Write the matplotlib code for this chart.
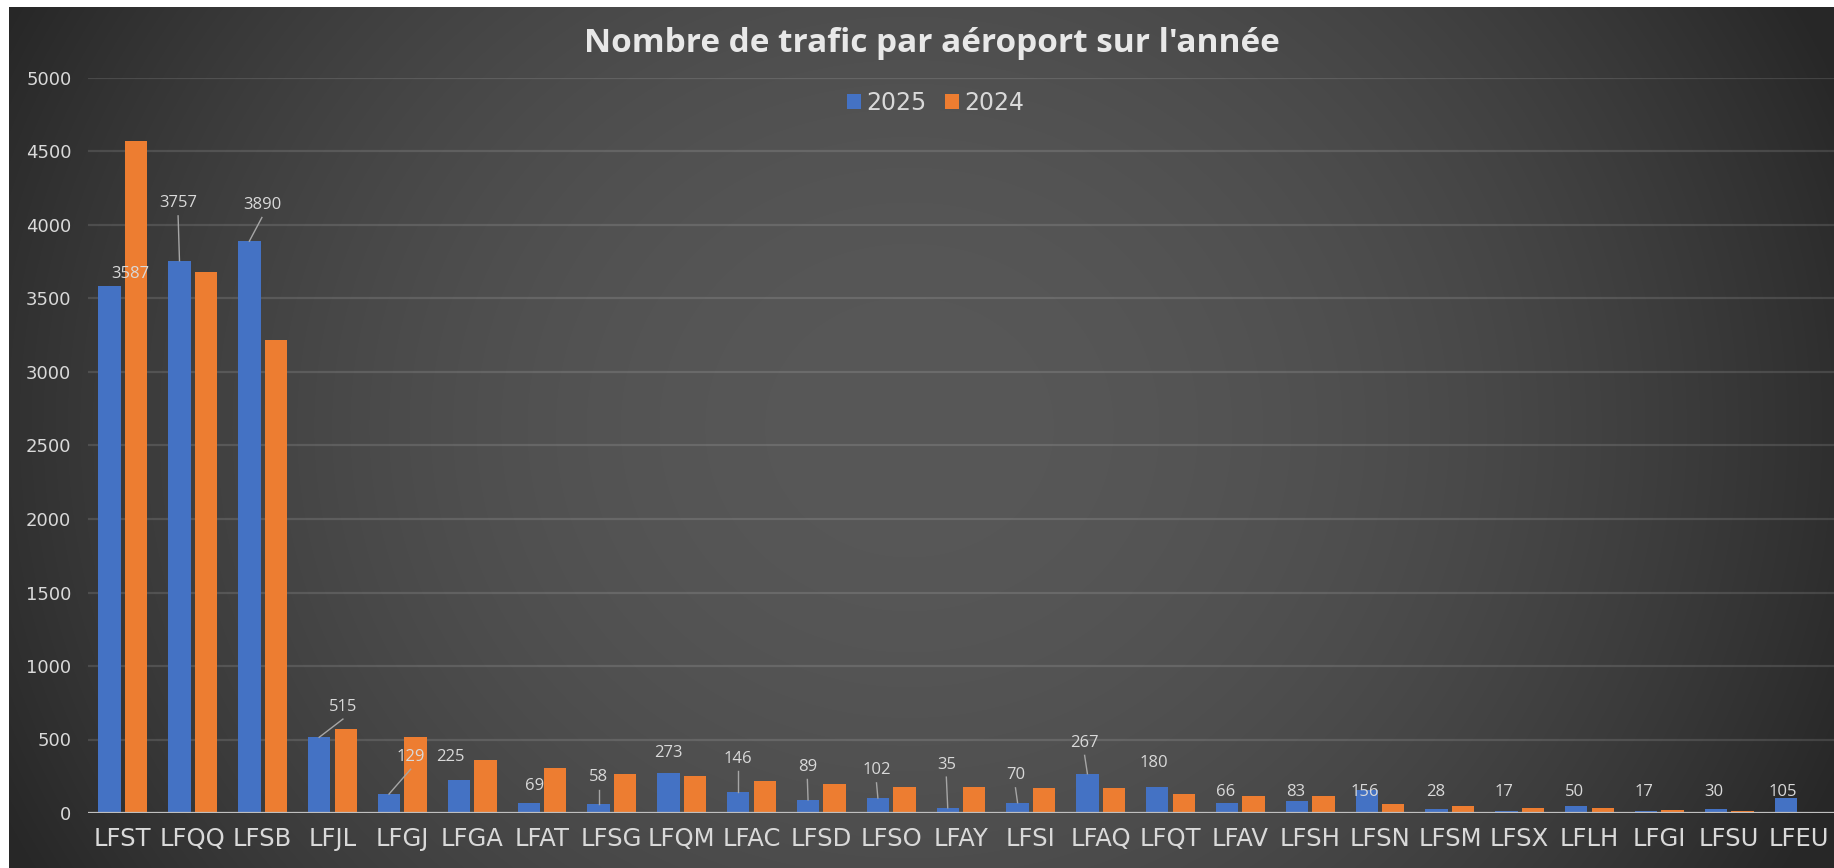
import matplotlib
matplotlib.use("Agg")
import matplotlib.pyplot as plt
import numpy as np

# donnees
airports = ["LFST", "LFQQ", "LFSB", "LFJL", "LFGJ", "LFGA", "LFAT", "LFSG", "LFQM",
            "LFAC", "LFSD", "LFSO", "LFAY", "LFSI", "LFAQ", "LFQT", "LFAV", "LFSH",
            "LFSN", "LFSM", "LFSX", "LFLH", "LFGI", "LFSU", "LFEU"]
traffic_2025 = [3587, 3757, 3890, 515, 129, 225, 69, 58, 273, 146, 89, 102, 35, 70,
                267, 180, 66, 83, 156, 28, 17, 50, 17, 30, 105]
traffic_2024 = [4570, 3680, 3220, 570, 518, 358, 305, 262, 249, 221, 196, 180, 180, 169,
                169, 128, 114, 114, 59, 46, 34, 32, 21, 12, 0]
years = ["2025", "2024"]
y_ticks = [0, 500, 1000, 1500, 2000, 2500, 3000, 3500, 4000, 4500, 5000]

# placement des etiquettes (decalage x par categorie, y en valeur) et lignes de rappel
label_pos = [(0.10, 3665), (-0.21, 4147), (-0.01, 4136), (0.15, 724), (0.12, 383),
             (-0.31, 381), (-0.10, 187), (-0.19, 244), (-0.19, 409), (-0.19, 370),
             (-0.20, 313), (-0.21, 290), (-0.21, 329), (-0.22, 256), (-0.23, 477),
             (-0.24, 342), (-0.21, 142), (-0.21, 142), (-0.22, 142), (-0.21, 142),
             (-0.22, 142), (-0.22, 142), (-0.22, 142), (-0.22, 142), (-0.23, 142)]
leader = [False, True, True, True, True, False, False, True, False, True, True, True,
          True, True, True, False, False, False, False, False, False, False, False,
          False, False]

blue = "#4472C4"
orange = "#ED7D31"
txt = "#d9d9d9"

fig = plt.figure(figsize=(18.34, 8.68), dpi=100)
fig.patch.set_facecolor("white")

# fond degrade
bg = fig.add_axes([9 / 1834, 0, 1 - 9 / 1834, 1 - 7 / 868])
yy, xx = np.mgrid[0:861, 0:1825]
r = ((xx - 900) / 1000.0) ** 2 + ((yy - 420) / 900.0) ** 2
shade = np.clip(88 - 48 * np.clip(r, 0, 1), 0, 255) / 255.0
bg.imshow(np.dstack([shade, shade, shade]), aspect="auto", extent=[0, 1, 0, 1])
bg.set_axis_off()

ax = fig.add_axes([88 / 1834, 1 - 813 / 868, 1 - 88 / 1834, (813 - 78) / 868])
ax.set_facecolor("none")
x = np.arange(len(airports))
w = 0.32
off = 0.19
ax.bar(x - off, traffic_2025, w, color=blue, label=years[0], zorder=3)
ax.bar(x + off, traffic_2024, w, color=orange, label=years[1], zorder=3)

ax.set_xlim(-0.5, len(airports) - 0.5)
ax.set_ylim(0, 5000)
ax.set_yticks(y_ticks)
ax.yaxis.grid(True, color="white", alpha=0.12, lw=1.6, zorder=0)
ax.axhline(0, color="#bfbfbf", lw=1.6, zorder=4)
for s in ax.spines.values():
    s.set_visible(False)
ax.tick_params(length=0)
ax.tick_params(axis="y", colors=txt, labelsize=13, pad=12)
ax.set_xticks(x)
ax.set_xticklabels(airports, family="Liberation Sans Narrow", fontsize=17.5, color=txt)
ax.tick_params(axis="x", pad=10)

for i, v in enumerate(traffic_2025):
    dx, ty = label_pos[i]
    ax.text(i + dx, ty, str(v), ha="center", va="center", color=txt, fontsize=12,
            family="Open Sans", zorder=6)
    if leader[i]:
        ax.plot([i + dx, i - off], [ty - 85, v], color="#a6a6a6", lw=1, zorder=5)

fig.text(0.508, 0.950, "Nombre de trafic par aéroport sur l'année", ha="center",
         va="center", fontsize=24, fontweight="bold", family="Open Sans", color="#e8e8e8")
fig.legend(loc="center", bbox_to_anchor=(0.51, 0.881), ncol=2, frameon=False,
           handlelength=0.6, handleheight=0.6, handletextpad=0.2, columnspacing=0.8,
           prop={"family": "Liberation Sans Narrow", "size": 17}, labelcolor=txt)

fig.savefig("out.png", dpi=100)
